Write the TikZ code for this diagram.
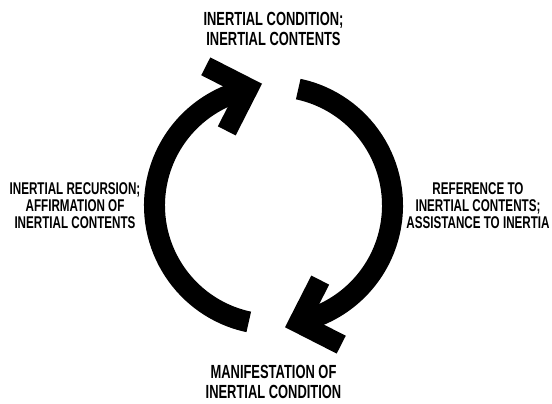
\documentclass[tikz,border=0pt]{standalone}
\usepackage{fontspec}
\newfontfamily\cyclefont{Liberation Sans}[FakeStretch=0.68]
\newfontfamily\cyclefontsmall{Liberation Sans}[FakeStretch=0.685]
\begin{document}
\begin{tikzpicture}[x=1pt,y=1pt,
    cyclearc/.style={line width=21pt},
    chevron/.style={line width=20pt,line join=miter},
    biglabel/.style={align=center,inner sep=0pt,font=\cyclefont\bfseries\fontsize{19}{20}\selectfont},
    smalllabel/.style={align=center,inner sep=0pt,font=\cyclefontsmall\bfseries\fontsize{17}{17}\selectfont}]
      \useasboundingbox (0,0) rectangle (552,404);
      \coordinate (c) at (273.5,198.5);
      % labels round the cycle
      \node[biglabel] (cond) at (273.5,375.5) {INERTIAL CONDITION;\\INERTIAL CONTENTS};
      \node[smalllabel] (ref) at (478,198) {REFERENCE TO\\INERTIAL CONTENTS;\\ASSISTANCE TO INERTIA};
      \node[biglabel] (manif) at (273.5,22.5) {MANIFESTATION OF\\INERTIAL CONDITION};
      \node[smalllabel] (recur) at (75,198) {INERTIAL RECURSION;\\AFFIRMATION OF\\INERTIAL CONTENTS};
      % left arc, up to the top
      \draw[cyclearc] ([shift={(258:119)}]c) arc[start angle=258,end angle=102,radius=119];
      \coordinate (tipL) at ([shift={(102:120)}]c);
      \draw[chevron] ([shift={(153:48)}]tipL) -- (tipL) -- ([shift={(243:48)}]tipL);
      % right arc, down to the bottom
      \draw[cyclearc] ([shift={(78:119)}]c) arc[start angle=78,end angle=-78,radius=119];
      \coordinate (tipR) at ([shift={(-78:120)}]c);
      \draw[chevron] ([shift={(-27:48)}]tipR) -- (tipR) -- ([shift={(63:48)}]tipR);
\end{tikzpicture}
\end{document}
